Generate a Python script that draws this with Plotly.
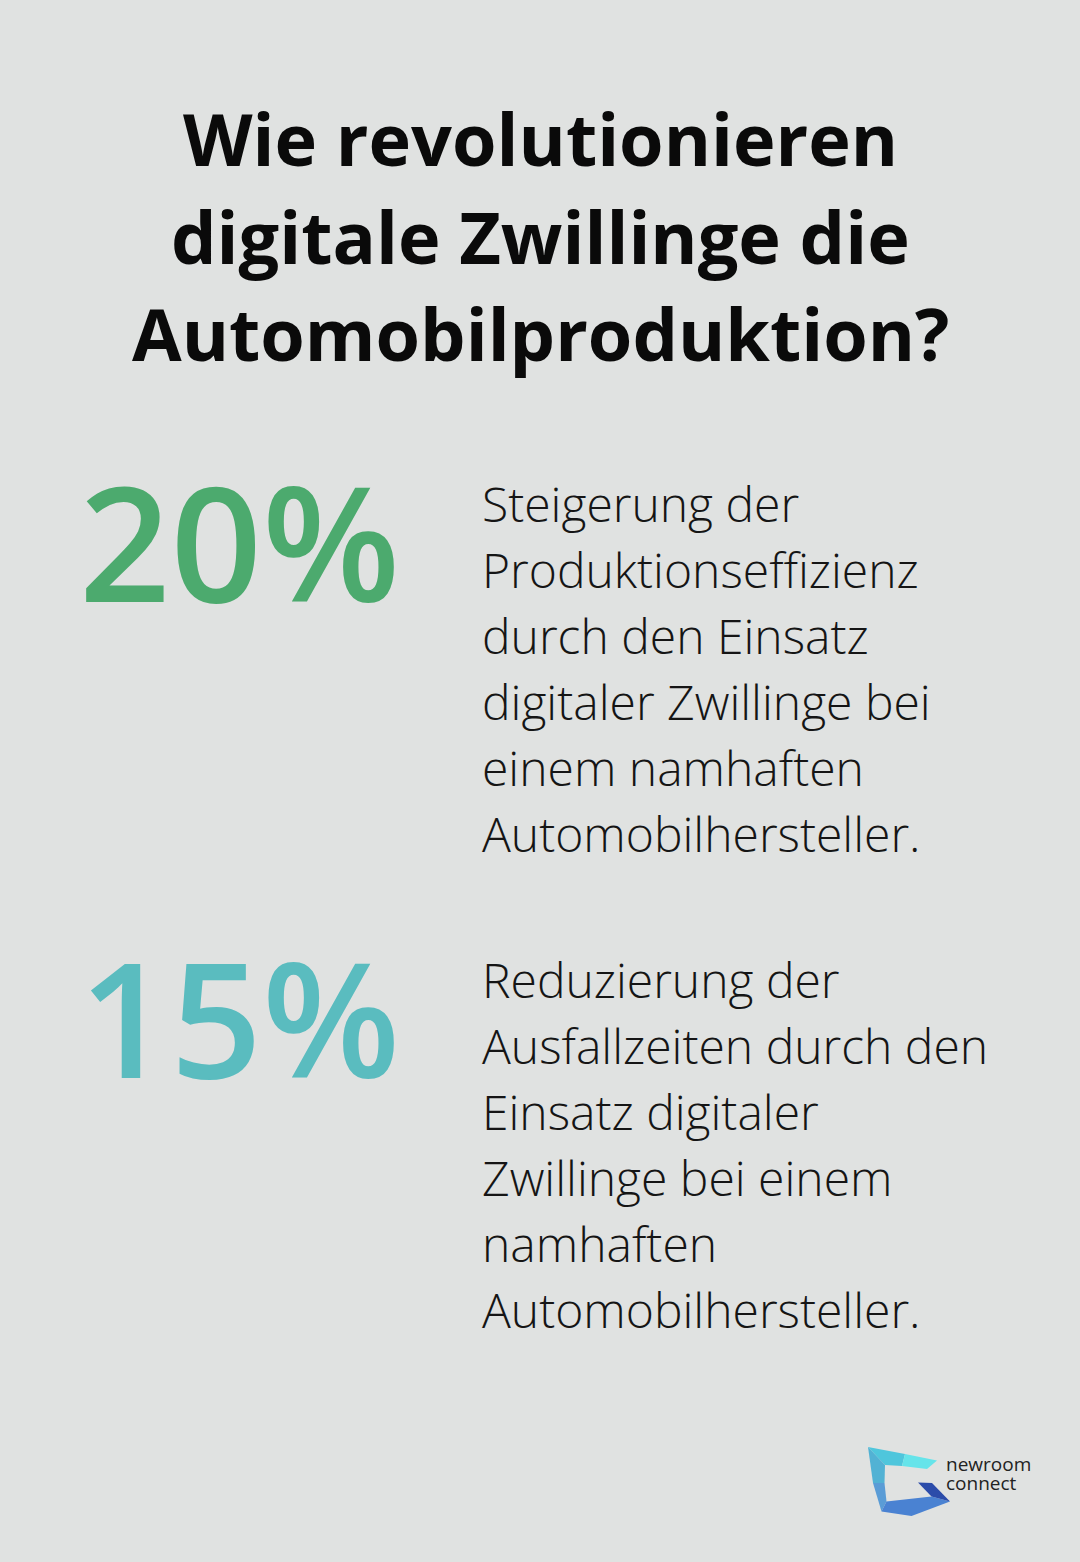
import plotly.graph_objects as go

# ---- content ----
title_lines = ["Wie revolutionieren", "digitale Zwillinge die", "Automobilproduktion?"]
stat_values = ["20%", "15%"]
stat_colors = ["#4caa6e", "#5abcbf"]
stat_texts = [
    ["Steigerung der", "Produktionseffizienz", "durch den Einsatz",
     "digitaler Zwillinge bei", "einem namhaften", "Automobilhersteller."],
    ["Reduzierung der", "Ausfallzeiten durch den", "Einsatz digitaler",
     "Zwillinge bei einem", "namhaften", "Automobilhersteller."],
]
logo_words = ["newroom", "connect"]

W, H = 1080, 1562
BG = "#e0e2e1"

fig = go.Figure()
ann = []

# title
title_y = [138, 236, 333]
for line, y in zip(title_lines, title_y):
    ann.append(dict(x=540, y=y, text=line, showarrow=False, xanchor="center", yanchor="middle",
                    font=dict(family="Open Sans", size=72, color="#0a0a0a", weight=700)))

# stats
num_y = [540, 1016]
text_top = [503, 979]
for val, col, lines, ny, ty in zip(stat_values, stat_colors, stat_texts, num_y, text_top):
    ann.append(dict(x=77, y=ny, text=val, showarrow=False, xanchor="left", yanchor="middle",
                    font=dict(family="Open Sans", size=160, color=col, weight=600)))
    for i, ln in enumerate(lines):
        ann.append(dict(x=480, y=ty + 66 * i, text=ln, showarrow=False, xanchor="left", yanchor="middle",
                        font=dict(family="Open Sans", size=48, color="#151515", weight=300)))

# logo text
for i, w in enumerate(logo_words):
    ann.append(dict(x=944, y=1464 + 19 * i, text=w, showarrow=False, xanchor="left", yanchor="middle",
                    font=dict(family="Open Sans", size=19, color="#222222", weight=400)))

# logo shapes
def poly(pts, color):
    path = "M " + " L ".join(f"{x},{y}" for x, y in pts) + " Z"
    return dict(type="path", path=path, xref="x", yref="y", fillcolor=color, line=dict(width=0), layer="above")

shapes = [
    poly([(868, 1447), (905, 1454), (902, 1466), (885, 1465)], "#4fc6dc"),
    poly([(905, 1454), (937, 1460.5), (927, 1469), (902, 1466)], "#66e4ea"),
    poly([(868, 1447), (885, 1465), (884.5, 1483), (873, 1483)], "#52b2d4"),
    poly([(873, 1483), (884.5, 1483), (886.5, 1501.5), (881.5, 1511.5)], "#5a9cd6"),
    poly([(881.5, 1511.5), (886.5, 1501.5), (931.5, 1496.5), (950, 1501.5), (911.5, 1516)], "#4a82d2"),
    poly([(918, 1482.5), (932, 1483), (950, 1501.5), (931.5, 1496.5)], "#2c4caa"),
]

fig.update_layout(
    width=W, height=H,
    margin=dict(l=0, r=0, t=0, b=0),
    paper_bgcolor=BG, plot_bgcolor=BG,
    xaxis=dict(range=[0, W], visible=False, fixedrange=True),
    yaxis=dict(range=[H, 0], visible=False, fixedrange=True),
    annotations=ann,
    shapes=shapes,
    showlegend=False,
)

fig.write_html("out.html", config={"displayModeBar": False})

# remove default page margin so the figure fills the window exactly
with open("out.html", "r", encoding="utf-8") as f:
    html = f.read()
html = html.replace("<head>", "<head><style>html,body{margin:0;padding:0;background:%s;}</style>" % BG, 1)
with open("out.html", "w", encoding="utf-8") as f:
    f.write(html)
